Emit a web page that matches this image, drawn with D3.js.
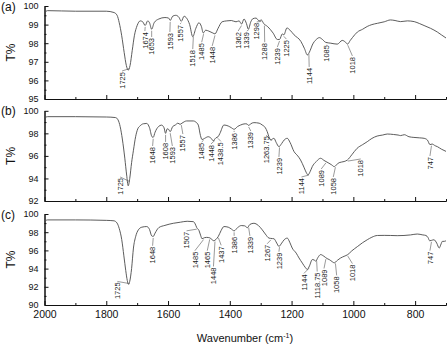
<!DOCTYPE html>
<html>
<head>
<meta charset="utf-8">
<script src="https://cdn.jsdelivr.net/npm/d3@7"></script>
<style>
  body { margin: 0; background: #fff; }
  svg { display: block; font-family: Arial, "Liberation Sans", sans-serif; }
</style>
</head>
<body>
<svg width="448" height="345"></svg>
<script>
// spectra: [wavenumber, T%]
const spectrumA = [
  [2000, 99.6], [1995, 99.72], [1990, 99.75], [1900, 99.72], [1800, 99.72], [1775, 99.65],
  [1765, 99.5], [1758, 99.1], [1750, 98.4], [1742, 97.5], [1735, 96.8], [1729, 96.55],
  [1723, 96.8], [1716, 97.6], [1709, 98.4], [1700, 98.95], [1690, 99.2], [1682, 99.15],
  [1674, 98.95], [1666, 99.2], [1660, 99.1], [1653, 98.75], [1645, 99.1], [1630, 99.3],
  [1610, 99.38], [1598, 99.35], [1593, 99.22], [1585, 99.45], [1575, 99.5], [1565, 99.4],
  [1557, 99.18], [1548, 99.45], [1540, 99.35], [1530, 99.0], [1520, 98.35], [1510, 98.8],
  [1500, 99.1], [1492, 98.9], [1486, 98.55], [1478, 98.7], [1468, 98.65], [1455, 98.55],
  [1448, 98.5], [1438, 98.8], [1425, 99.15], [1410, 99.2], [1395, 99.22], [1380, 99.15],
  [1370, 99.2], [1362, 99.03], [1354, 99.3], [1346, 99.05], [1340, 98.75], [1332, 99.15],
  [1325, 99.32], [1315, 99.35], [1305, 99.2], [1298, 99.25], [1290, 99.05], [1278, 98.9],
  [1260, 98.55], [1246, 98.2], [1239, 98.2], [1230, 98.5], [1225, 98.45], [1215, 98.82],
  [1205, 98.7], [1192, 98.45], [1170, 98.1], [1158, 97.7], [1149, 97.37], [1140, 97.6],
  [1133, 97.9], [1120, 98.2], [1110, 98.3], [1100, 98.2], [1090, 98.05], [1073, 98.0],
  [1052, 97.95], [1036, 98.15], [1025, 98.05], [1019, 97.95], [1010, 98.15], [1003, 98.3],
  [987, 98.6], [970, 98.75], [955, 98.9], [940, 99.0], [922, 99.07], [900, 99.15],
  [880, 99.25], [865, 99.22], [847, 99.16], [825, 99.2], [803, 99.16], [785, 99.05],
  [771, 98.95], [750, 98.8], [728, 98.6], [715, 98.45], [700, 98.28]
];

const spectrumB = [
  [2000, 99.3], [1995, 99.45], [1990, 99.48], [1900, 99.48], [1800, 99.45], [1770, 99.4],
  [1762, 99.2], [1755, 98.6], [1748, 97.5], [1740, 95.8], [1734, 94.3], [1729, 93.35],
  [1724, 94.0], [1718, 95.4], [1712, 96.5], [1705, 97.7], [1698, 98.4], [1691, 98.65],
  [1680, 98.85], [1669, 98.88], [1660, 98.5], [1652, 97.7], [1648, 97.65], [1642, 98.1],
  [1631, 98.6], [1621, 98.73], [1613, 98.5], [1608, 98.0], [1603, 98.4], [1598, 98.35],
  [1593, 98.15], [1585, 98.6], [1577, 98.73], [1568, 98.9], [1561, 98.8], [1555, 98.9],
  [1540, 99.1], [1518, 99.1], [1510, 99.0], [1502, 98.73], [1495, 97.8], [1490, 97.45],
  [1482, 97.55], [1470, 97.7], [1460, 97.55], [1454, 97.35], [1445, 97.6], [1438, 97.7],
  [1432, 98.0], [1419, 98.74], [1405, 98.65], [1395, 98.5], [1386, 98.36], [1375, 98.6],
  [1365, 98.74], [1350, 98.85], [1344, 98.83], [1339, 98.7], [1332, 98.85], [1322, 98.95],
  [1305, 98.9], [1295, 98.74], [1285, 98.5], [1279, 98.16], [1272, 97.6], [1268, 97.41],
  [1262, 97.5], [1257, 97.56], [1250, 97.2], [1241, 96.82], [1232, 97.1], [1224, 97.41],
  [1214, 97.56], [1205, 97.2], [1192, 96.38], [1180, 96.0], [1171, 95.64], [1160, 95.0],
  [1152, 94.5], [1147, 94.31], [1140, 94.6], [1133, 95.05], [1120, 95.5], [1106, 95.79],
  [1095, 95.6], [1079, 95.35], [1070, 95.2], [1062, 95.05], [1055, 95.2], [1046, 95.4],
  [1030, 95.5], [1019, 95.64], [1005, 96.1], [988, 96.67], [970, 97.0], [955, 97.26],
  [940, 97.55], [923, 97.76], [905, 97.85], [890, 97.94], [870, 97.9], [855, 97.85],
  [847, 97.8], [835, 97.88], [820, 97.7], [804, 97.64], [785, 97.6], [771, 97.56],
  [760, 97.4], [752, 97.0], [745, 97.05], [735, 96.9], [728, 96.82], [715, 96.6], [700, 96.4]
];

const spectrumC = [
  [2000, 99.15], [1995, 99.3], [1990, 99.35], [1900, 99.35], [1800, 99.3], [1775, 99.25],
  [1765, 99.0], [1758, 98.4], [1750, 97.2], [1743, 95.4], [1737, 93.8], [1732, 92.7],
  [1728, 92.27], [1724, 92.6], [1718, 94.0], [1712, 96.26], [1705, 97.5], [1696, 98.26],
  [1685, 98.55], [1669, 98.62], [1660, 98.3], [1653, 97.6], [1648, 97.53], [1642, 97.9],
  [1630, 98.5], [1610, 98.75], [1583, 98.98], [1560, 99.1], [1538, 99.2], [1518, 99.16],
  [1512, 98.9], [1507, 98.5], [1500, 98.2], [1494, 97.6], [1490, 97.28], [1482, 97.4],
  [1475, 97.43], [1465, 97.38], [1458, 97.2], [1452, 97.06], [1445, 97.2], [1437, 97.55],
  [1428, 98.2], [1419, 98.62], [1405, 98.55], [1395, 98.35], [1386, 98.15], [1375, 98.5],
  [1363, 98.73], [1352, 98.7], [1343, 98.5], [1335, 98.85], [1322, 98.98], [1308, 98.75],
  [1295, 98.26], [1285, 97.8], [1273, 97.35], [1262, 97.3], [1257, 97.28], [1248, 96.8],
  [1241, 96.44], [1232, 96.8], [1224, 97.17], [1214, 97.35], [1206, 96.9], [1198, 96.26],
  [1185, 95.7], [1176, 95.17], [1165, 94.6], [1155, 94.1], [1149, 93.9], [1142, 94.3],
  [1133, 94.99], [1126, 94.95], [1122, 94.8], [1115, 95.2], [1106, 95.54], [1095, 95.35],
  [1085, 95.1], [1078, 94.99], [1068, 94.75], [1062, 94.63], [1052, 94.9], [1041, 95.17],
  [1030, 95.35], [1018, 95.54], [1005, 95.95], [986, 96.44], [970, 96.85], [955, 97.17],
  [940, 97.45], [922, 97.64], [900, 97.65], [879, 97.64], [858, 97.62], [836, 97.64],
  [815, 97.7], [793, 97.8], [775, 97.7], [765, 97.64], [758, 97.4], [753, 97.06],
  [747, 97.1], [739, 97.17], [730, 96.8], [722, 96.26], [716, 96.7], [712, 96.99],
  [705, 97.0], [700, 97.06]
];

// peak labels: [text, wavenumber where the label sits, T% at the label's top]
const labelsA = [
  ["1725", 1749, 96.45], ["1674", 1675, 98.6], ["1653", 1653, 98.28], ["1593", 1594, 98.55],
  ["1557", 1561, 98.98], ["1518", 1520, 97.63], ["1485", 1491, 98.0], ["1448", 1457, 97.8],
  ["1362", 1373, 98.6], ["1339", 1345, 98.6], ["1298", 1313, 99.09], ["1288", 1287, 98.0],
  ["1239", 1246, 97.74], ["1225", 1217, 98.17], ["1144", 1143, 96.67], ["1085", 1086, 97.9],
  ["1018", 1003, 97.26]
];
const labelsB = [
  ["1725", 1755, 94.04], ["1648", 1650, 96.79], ["1608", 1608, 97.15], ["1593", 1586, 96.79],
  ["1557", 1552, 97.85], ["1485", 1491, 97.15], ["1448", 1461, 96.97], ["1438.5", 1429, 97.2],
  ["1386", 1386, 98.03], ["1339", 1332, 98.12], ["1263.75", 1282, 97.75], ["1239", 1241, 95.82],
  ["1144", 1168, 94.04], ["1089", 1104, 94.75], ["1058", 1065, 94.04], ["1018", 976, 95.64],
  ["747", 752, 95.9]
];
const labelsC = [
  ["1725", 1764, 92.48], ["1648", 1650, 96.4], ["1507", 1540, 98.04], ["1485", 1513, 95.86],
  ["1465", 1473, 95.86], ["1448", 1453, 94.12], ["1437", 1428, 96.45], ["1386", 1386, 97.49],
  ["1339", 1335, 97.49], ["1267", 1279, 96.62], ["1239", 1241, 95.75], ["1144", 1160, 93.36],
  ["1118.75", 1117, 93.57], ["1089", 1095, 93.9], ["1058", 1054, 93.14], ["1018", 1003, 94.44],
  ["747", 752, 95.86]
];

const panelNames = ["(a)", "(b)", "(c)"];
const yDomains = [[95, 100], [92, 100], [90, 100]];
const yMajorTicks = [[95, 96, 97, 98, 99, 100], [92, 94, 96, 98, 100], [90, 92, 94, 96, 98, 100]];
const yMinorTicks = [[95.5, 96.5, 97.5, 98.5, 99.5], [93, 95, 97, 99], [91, 93, 95, 97, 99]];
const xMajorTicks = [2000, 1800, 1600, 1400, 1200, 1000, 800];
const xMinorTicks = [1900, 1700, 1500, 1300, 1100, 900, 700];

const svg = d3.select("svg");
const lineColor = "#4a4a4a";

const xScale = d3.scaleLinear().domain([2000, 700]).range([44.5, 446]);
const yRanges = [[99, 6], [201, 110.8], [305, 214]];

function tAt(data, wn) {
  for (let i = 0; i < data.length - 1; i++) {
    const [w0, t0] = data[i], [w1, t1] = data[i + 1];
    if (wn <= w0 && wn >= w1) return t0 + (t1 - t0) * (w0 - wn) / (w0 - w1);
  }
  return data[data.length - 1][1];
}

function drawPanel(i, data, labels) {
  const yScale = d3.scaleLinear().domain(yDomains[i]).range(yRanges[i]);
  const g = svg.append("g");

  // axes, ticks pointing inward
  const yAxis = d3.axisLeft(yScale).tickValues(yMajorTicks[i])
    .tickSizeInner(-4).tickSizeOuter(0).tickPadding(6).tickFormat(d3.format("d"));
  const yMinor = d3.axisLeft(yScale).tickValues(yMinorTicks[i])
    .tickSizeInner(-2).tickSizeOuter(0).tickFormat("");
  const xAxis = d3.axisBottom(xScale).tickValues(xMajorTicks)
    .tickSizeInner(-4).tickSizeOuter(0).tickPadding(6)
    .tickFormat(i === 2 ? d3.format("d") : "");
  const xMinor = d3.axisBottom(xScale).tickValues(xMinorTicks)
    .tickSizeInner(-2).tickSizeOuter(0).tickFormat("");

  const yb = yRanges[i][0];
  g.append("g").attr("transform", `translate(0,${yb})`).call(xMinor);
  g.append("g").attr("transform", `translate(0,${yb})`).call(xAxis)
    .selectAll("text").attr("font-size", 10.5).attr("fill", "#111");
  g.append("g").attr("transform", `translate(${xScale.range()[0]},0)`).call(yMinor);
  g.append("g").attr("transform", `translate(${xScale.range()[0]},0)`).call(yAxis)
    .selectAll("text").attr("font-size", 9).attr("fill", "#111");
  g.selectAll(".domain").attr("stroke", "#111");
  g.selectAll(".tick line").attr("stroke", "#111");

  // spectrum
  const line = d3.line()
    .x((d) => xScale(d[0]))
    .y((d) => yScale(d[1]))
    .curve(d3.curveMonotoneX);
  g.append("path")
    .datum(data)
    .attr("d", line)
    .attr("fill", "none")
    .attr("stroke", lineColor)
    .attr("stroke-width", 0.9);

  // peak labels with leader lines
  const peaks = g.append("g").selectAll("g").data(labels).enter().append("g");
  peaks.append("line")
    .attr("x1", (d) => xScale(parseFloat(d[0])))
    .attr("y1", (d) => yScale(tAt(data, parseFloat(d[0]))) + 1.5)
    .attr("x2", (d) => xScale(d[1]))
    .attr("y2", (d) => yScale(d[2]) - 1)
    .attr("stroke", "#555")
    .attr("stroke-width", 0.6);
  peaks.append("text")
    .attr("transform", (d) => `translate(${xScale(d[1])},${yScale(d[2])}) rotate(-90)`)
    .attr("text-anchor", "end")
    .attr("dy", "0.35em")
    .attr("font-size", 7.5)
    .attr("fill", "#222")
    .text((d) => d[0]);

  // panel name and y title
  svg.append("text")
    .attr("x", 1)
    .attr("y", yRanges[i][1] + 4.5)
    .attr("font-size", 12)
    .attr("fill", "#111")
    .text(panelNames[i]);
  const yMid = (yRanges[i][0] + yRanges[i][1]) / 2;
  svg.append("text")
    .attr("transform", `translate(15,${yMid}) rotate(-90)`)
    .attr("text-anchor", "middle")
    .attr("font-size", 12)
    .attr("fill", "#111")
    .text("T%");
}

drawPanel(0, spectrumA, labelsA);
drawPanel(1, spectrumB, labelsB);
drawPanel(2, spectrumC, labelsC);

// x title
const title = svg.append("text")
  .attr("x", 245)
  .attr("y", 342)
  .attr("text-anchor", "middle")
  .attr("font-size", 11)
  .attr("fill", "#111");
title.append("tspan").text("Wavenumber (cm");
title.append("tspan").attr("font-size", 7).attr("dy", -4).text("-1");
title.append("tspan").attr("dy", 4).text(")");
</script>
</body>
</html>
